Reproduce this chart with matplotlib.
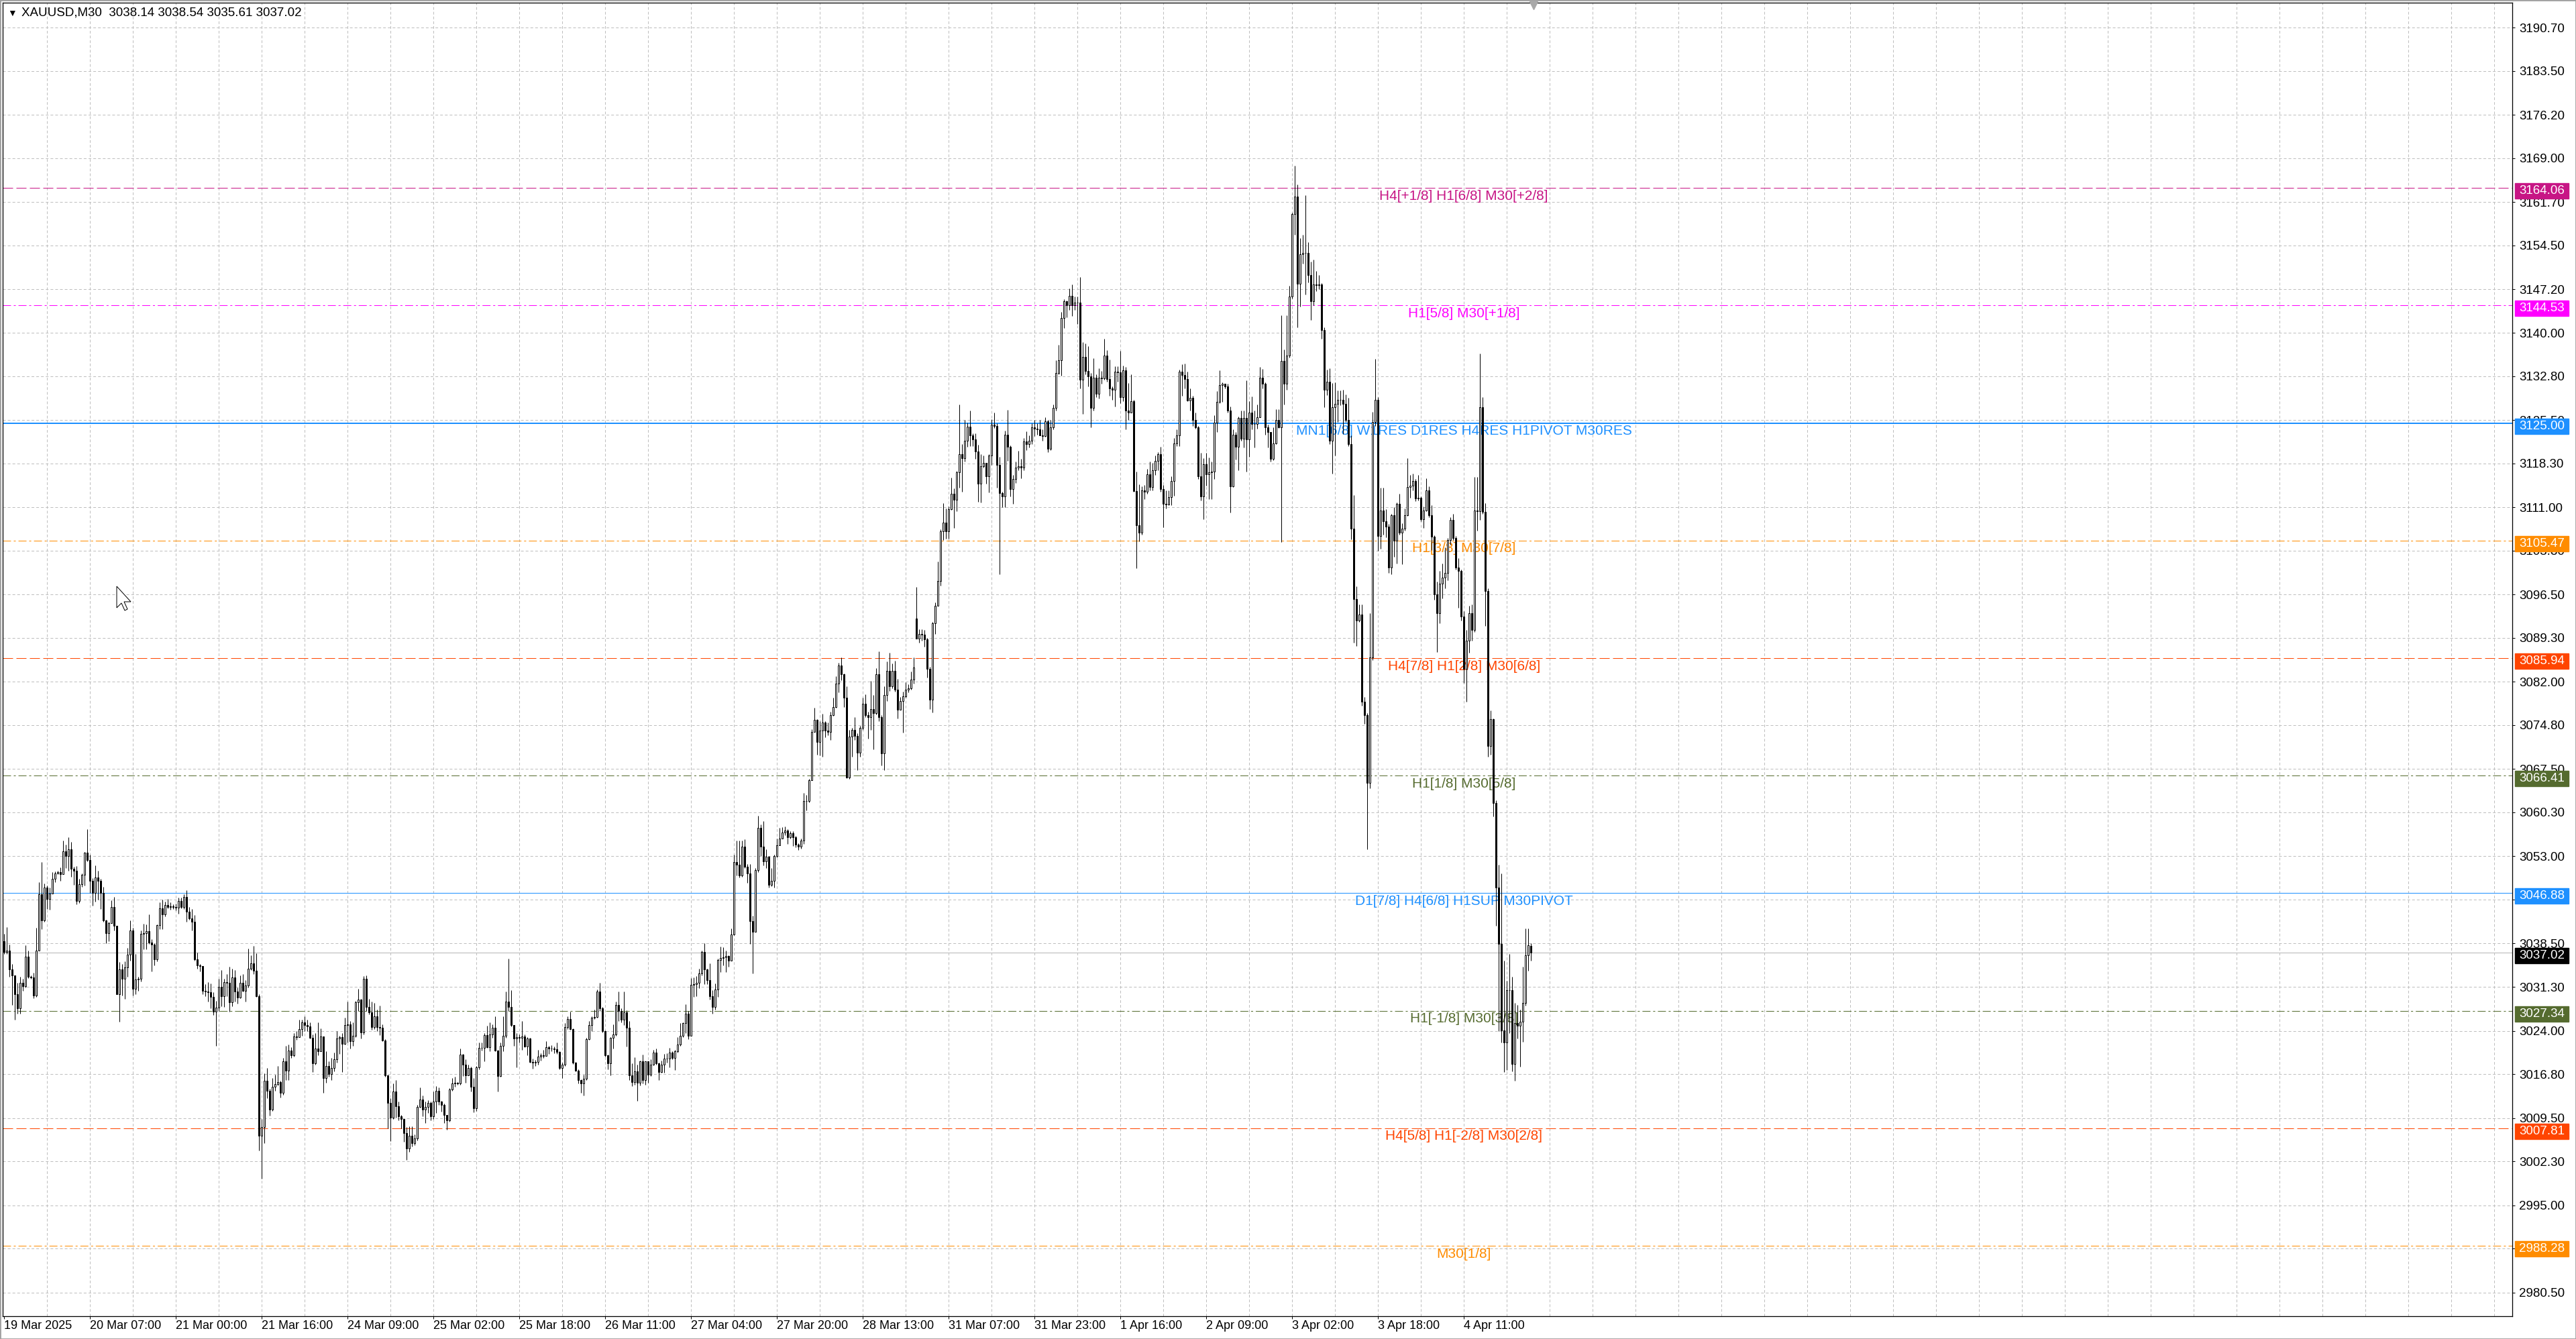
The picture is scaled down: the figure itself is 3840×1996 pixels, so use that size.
import numpy as np
import matplotlib
matplotlib.use("Agg")
import matplotlib.pyplot as plt
import matplotlib.transforms as mtransforms
from matplotlib.patches import Rectangle, Polygon

first_open = 3038.9
gap_opens = {340: 3092.5, 569: 3038.14}   # ouverture du lundi avec gap, derniere bougie

closes = [
    3037.1, 3037.3, 3034.2, 3033.2, 3030.1, 3027.7, 3032.0, 3031.4, 3036.3, 3033.0,
    3032.9, 3029.9, 3037.3, 3046.7, 3042.3, 3047.8, 3045.9, 3046.8, 3049.2, 3050.1,
    3050.4, 3050.0, 3053.8, 3053.1, 3054.2, 3050.9, 3050.6, 3045.6, 3048.4, 3049.9,
    3053.6, 3052.4, 3048.9, 3046.9, 3049.5, 3048.9, 3046.9, 3042.3, 3040.2, 3041.9,
    3044.6, 3041.5, 3030.1, 3034.2, 3032.7, 3034.5, 3036.7, 3040.7, 3031.0, 3032.5,
    3032.7, 3040.1, 3040.2, 3040.6, 3038.7, 3038.3, 3035.9, 3041.6, 3044.4, 3043.4,
    3044.9, 3044.6, 3044.7, 3044.6, 3044.5, 3045.6, 3044.6, 3046.2, 3043.8, 3042.7,
    3042.1, 3035.9, 3034.9, 3034.8, 3030.6, 3030.5, 3030.4, 3029.6, 3027.2, 3027.9,
    3031.3, 3029.8, 3032.1, 3032.0, 3028.7, 3032.9, 3030.5, 3029.5, 3032.0, 3030.6,
    3031.5, 3034.3, 3035.2, 3034.0, 3029.8, 3006.6, 3008.0, 3015.7, 3014.0, 3010.9,
    3014.7, 3015.1, 3015.5, 3013.7, 3018.9, 3017.4, 3020.7, 3019.9, 3023.1, 3023.0,
    3024.3, 3025.4, 3024.9, 3024.7, 3022.8, 3018.6, 3021.0, 3020.6, 3023.1, 3016.1,
    3018.1, 3016.8, 3017.8, 3019.3, 3022.7, 3022.9, 3021.8, 3024.9, 3025.1, 3022.3,
    3023.2, 3028.7, 3029.2, 3023.7, 3032.7, 3028.0, 3027.1, 3024.6, 3026.4, 3024.6,
    3024.5, 3022.4, 3016.6, 3012.0, 3009.6, 3013.9, 3011.5, 3009.8, 3009.4, 3007.0,
    3004.4, 3006.6, 3005.3, 3006.1, 3011.3, 3012.6, 3010.9, 3011.4, 3012.0, 3009.8,
    3012.2, 3014.0, 3012.2, 3011.7, 3010.0, 3009.1, 3014.3, 3015.2, 3015.4, 3015.3,
    3020.1, 3018.4, 3016.6, 3017.8, 3014.7, 3011.1, 3017.9, 3021.2, 3021.2, 3023.3,
    3021.3, 3023.4, 3024.5, 3020.7, 3016.5, 3021.5, 3023.2, 3028.8, 3028.0, 3024.9,
    3022.7, 3023.0, 3022.8, 3023.1, 3021.4, 3022.7, 3018.8, 3018.7, 3018.8, 3019.7,
    3019.9, 3019.8, 3021.3, 3021.1, 3021.1, 3020.9, 3020.5, 3017.8, 3018.4, 3024.6,
    3026.0, 3024.3, 3018.7, 3017.4, 3015.8, 3015.2, 3016.0, 3022.6, 3025.0, 3026.2,
    3026.3, 3030.5, 3027.7, 3024.0, 3019.9, 3018.6, 3022.8, 3023.4, 3028.3, 3027.3,
    3025.9, 3027.1, 3024.5, 3016.6, 3015.5, 3017.3, 3015.4, 3018.9, 3015.8, 3018.9,
    3016.7, 3018.4, 3020.4, 3018.6, 3017.2, 3018.4, 3019.4, 3019.4, 3020.4, 3019.5,
    3020.6, 3021.7, 3023.2, 3025.3, 3026.9, 3023.2, 3031.6, 3031.7, 3032.0, 3033.5,
    3037.1, 3034.2, 3032.4, 3029.7, 3028.0, 3030.9, 3035.8, 3036.1, 3036.2, 3036.4,
    3035.7, 3040.0, 3052.0, 3051.6, 3049.8, 3054.6, 3051.3, 3050.1, 3042.2, 3040.5,
    3050.7, 3057.7, 3054.6, 3052.1, 3052.9, 3048.2, 3048.9, 3053.0, 3054.8, 3055.9,
    3056.9, 3057.3, 3056.2, 3056.8, 3056.2, 3054.9, 3054.6, 3055.6, 3062.2, 3062.2,
    3065.6, 3073.7, 3075.7, 3072.0, 3073.9, 3075.2, 3073.9, 3073.7, 3076.5, 3077.8,
    3081.7, 3084.7, 3083.3, 3079.3, 3066.1, 3072.9, 3074.0, 3073.0, 3070.2, 3074.3,
    3078.4, 3076.5, 3076.1, 3077.5, 3076.8, 3083.3, 3076.1, 3070.1, 3079.8, 3083.8,
    3081.3, 3083.8, 3080.7, 3077.4, 3078.8, 3079.6, 3080.7, 3080.9, 3082.4, 3084.4,
    3089.2, 3089.9, 3089.8, 3089.1, 3084.2, 3079.0, 3091.7, 3094.6, 3098.7, 3107.0,
    3108.4, 3107.0, 3110.7, 3113.3, 3112.2, 3116.8, 3119.8, 3119.2, 3122.1, 3124.4,
    3122.9, 3122.3, 3120.3, 3114.9, 3117.8, 3118.4, 3116.1, 3119.6, 3124.7, 3124.5,
    3118.0, 3113.4, 3112.8, 3123.1, 3121.1, 3114.0, 3115.7, 3117.6, 3117.8, 3117.6,
    3121.9, 3121.5, 3122.0, 3124.3, 3124.1, 3123.9, 3123.0, 3122.8, 3125.3, 3120.7,
    3124.3, 3127.5, 3133.3, 3135.4, 3142.4, 3145.2, 3144.6, 3146.1, 3144.6, 3145.0,
    3145.0, 3132.2, 3136.0, 3133.7, 3132.7, 3127.5, 3132.5, 3129.9, 3132.5, 3132.4,
    3136.2, 3132.3, 3130.7, 3130.5, 3133.5, 3133.4, 3129.3, 3133.8, 3127.1, 3126.7,
    3128.6, 3113.7, 3108.0, 3106.8, 3113.8, 3113.6, 3116.5, 3114.4, 3117.1, 3118.7,
    3119.8, 3114.0, 3111.6, 3111.5, 3112.7, 3115.4, 3121.6, 3122.9, 3133.5, 3133.0,
    3132.3, 3128.7, 3129.2, 3125.5, 3124.3, 3116.1, 3112.8, 3118.2, 3116.5, 3116.8,
    3116.9, 3125.1, 3128.5, 3131.3, 3131.5, 3131.1, 3127.1, 3114.5, 3123.1, 3121.1,
    3125.8, 3122.4, 3125.8, 3122.3, 3126.7, 3124.8, 3124.8, 3125.9, 3132.5, 3131.5,
    3124.3, 3123.5, 3119.0, 3121.6, 3125.5, 3124.3, 3135.3, 3131.5, 3136.2, 3146.0,
    3159.7, 3162.6, 3148.1, 3153.0, 3153.3, 3153.3, 3149.6, 3145.2, 3148.0, 3147.9,
    3148.0, 3140.5, 3130.5, 3131.9, 3122.1, 3127.6, 3128.2, 3128.9, 3128.9, 3128.2,
    3125.5, 3121.5, 3107.5, 3095.7, 3092.2, 3093.2, 3078.7, 3076.5, 3065.2, 3086.1,
    3125.2, 3128.9, 3106.2, 3110.5, 3108.7, 3107.8, 3101.0, 3109.7, 3105.4, 3111.6,
    3106.8, 3107.4, 3109.7, 3114.4, 3114.6, 3115.4, 3112.5, 3112.6, 3109.0, 3110.5,
    3113.8, 3109.7, 3106.1, 3096.5, 3093.4, 3098.3, 3099.3, 3100.1, 3105.6, 3108.9,
    3105.9, 3101.0, 3100.4, 3092.8, 3084.2, 3088.8, 3093.4, 3090.6, 3110.5, 3110.3,
    3127.6, 3110.2, 3097.1, 3071.3, 3075.8, 3061.9, 3047.8, 3038.4, 3024.1, 3022.0,
    3030.7, 3030.8, 3018.5, 3025.3, 3024.8, 3025.5, 3028.6, 3036.6, 3038.2, 3037.02,
]

highs = [
    3040.1, 3041.2, 3038.3, 3035.1, 3033.2, 3032.0, 3033.0, 3032.6, 3038.2, 3037.3,
    3033.2, 3033.6, 3041.1, 3048.7, 3052.0, 3048.5, 3048.1, 3047.8, 3050.4, 3050.5,
    3050.6, 3051.2, 3055.6, 3054.9, 3056.2, 3055.4, 3051.3, 3051.4, 3049.2, 3050.2,
    3053.7, 3057.5, 3053.3, 3049.4, 3051.5, 3050.6, 3049.2, 3047.9, 3042.5, 3042.1,
    3045.7, 3046.2, 3041.5, 3035.4, 3035.1, 3035.5, 3037.8, 3042.3, 3041.1, 3036.8,
    3033.0, 3040.7, 3041.8, 3041.7, 3043.3, 3039.2, 3038.6, 3041.7, 3045.4, 3045.8,
    3045.5, 3045.9, 3045.3, 3045.0, 3045.1, 3046.1, 3046.1, 3046.7, 3047.4, 3044.6,
    3044.2, 3043.2, 3037.0, 3035.1, 3034.7, 3031.8, 3032.1, 3031.9, 3030.4, 3029.0,
    3032.7, 3034.1, 3032.6, 3033.4, 3034.7, 3034.3, 3034.1, 3031.2, 3033.2, 3033.4,
    3032.4, 3037.7, 3036.5, 3038.1, 3036.9, 3030.1, 3009.3, 3016.9, 3017.8, 3014.4,
    3016.1, 3016.7, 3018.2, 3015.7, 3019.5, 3021.5, 3021.7, 3021.3, 3023.6, 3024.0,
    3025.8, 3025.8, 3026.4, 3025.8, 3025.4, 3023.4, 3023.6, 3025.4, 3024.4, 3023.1,
    3020.6, 3018.9, 3019.5, 3020.4, 3023.9, 3023.2, 3023.6, 3026.2, 3028.9, 3025.6,
    3025.4, 3029.0, 3031.0, 3029.3, 3033.1, 3033.2, 3029.3, 3028.8, 3028.6, 3027.5,
    3028.2, 3025.1, 3022.6, 3016.7, 3012.8, 3015.2, 3015.8, 3012.2, 3010.0, 3009.4,
    3008.0, 3008.1, 3008.1, 3006.8, 3011.7, 3014.6, 3013.2, 3012.2, 3012.5, 3012.2,
    3013.9, 3014.8, 3014.6, 3012.4, 3011.9, 3010.0, 3014.5, 3016.2, 3016.4, 3015.5,
    3021.0, 3020.2, 3019.3, 3018.4, 3018.0, 3016.1, 3018.1, 3022.0, 3022.0, 3023.6,
    3024.8, 3025.4, 3025.1, 3026.4, 3020.8, 3022.1, 3026.4, 3030.5, 3036.0, 3030.8,
    3025.0, 3023.6, 3023.4, 3025.6, 3023.4, 3022.9, 3022.8, 3019.4, 3019.2, 3020.8,
    3020.3, 3020.8, 3022.3, 3021.5, 3021.6, 3021.4, 3022.1, 3020.6, 3018.7, 3025.3,
    3026.4, 3027.2, 3024.4, 3018.8, 3017.6, 3015.9, 3016.7, 3022.8, 3025.6, 3026.4,
    3027.5, 3030.9, 3032.0, 3028.0, 3024.1, 3020.0, 3023.0, 3025.1, 3028.8, 3030.5,
    3027.7, 3030.5, 3027.4, 3025.6, 3018.6, 3019.6, 3018.4, 3019.0, 3020.0, 3018.9,
    3018.9, 3019.3, 3020.8, 3021.0, 3018.7, 3019.1, 3020.2, 3020.3, 3021.2, 3020.6,
    3020.8, 3022.9, 3025.3, 3025.4, 3028.4, 3027.3, 3032.8, 3032.9, 3033.1, 3034.3,
    3037.3, 3038.6, 3034.3, 3035.2, 3030.8, 3031.9, 3036.0, 3038.0, 3037.9, 3037.3,
    3036.6, 3041.0, 3053.3, 3055.6, 3055.6, 3055.6, 3055.8, 3051.7, 3051.7, 3043.1,
    3051.0, 3059.7, 3058.3, 3058.8, 3054.2, 3053.1, 3051.0, 3053.3, 3055.9, 3057.7,
    3057.8, 3058.0, 3057.5, 3057.2, 3057.2, 3056.4, 3055.2, 3055.9, 3063.5, 3063.2,
    3065.9, 3074.1, 3077.7, 3075.8, 3075.5, 3076.7, 3075.5, 3075.2, 3077.0, 3079.3,
    3082.9, 3085.1, 3086.0, 3083.4, 3081.3, 3074.0, 3074.3, 3076.1, 3073.4, 3074.7,
    3079.3, 3079.9, 3077.0, 3082.1, 3079.8, 3084.3, 3087.0, 3076.5, 3081.3, 3085.4,
    3086.8, 3085.0, 3085.5, 3082.5, 3079.5, 3080.4, 3081.9, 3081.6, 3083.7, 3086.0,
    3097.8, 3090.7, 3090.7, 3090.6, 3089.3, 3084.5, 3091.9, 3095.2, 3102.0, 3107.3,
    3111.7, 3110.8, 3111.1, 3115.9, 3114.1, 3117.0, 3128.1, 3121.5, 3125.5, 3125.1,
    3127.1, 3123.3, 3123.3, 3121.4, 3119.8, 3119.6, 3118.4, 3119.8, 3125.6, 3126.7,
    3124.9, 3119.4, 3113.6, 3123.7, 3127.2, 3121.3, 3116.4, 3118.6, 3120.4, 3119.0,
    3122.5, 3123.6, 3122.9, 3124.9, 3125.5, 3124.9, 3125.5, 3123.9, 3125.9, 3125.5,
    3125.5, 3128.1, 3135.4, 3138.0, 3143.5, 3145.6, 3145.4, 3147.4, 3148.0, 3146.0,
    3146.0, 3149.2, 3138.4, 3138.2, 3137.8, 3133.3, 3135.8, 3133.1, 3134.1, 3133.6,
    3139.0, 3137.1, 3135.5, 3131.1, 3134.4, 3134.4, 3137.0, 3134.5, 3134.3, 3131.6,
    3133.1, 3128.9, 3116.9, 3114.8, 3114.5, 3114.7, 3117.4, 3118.6, 3118.4, 3119.6,
    3120.2, 3121.0, 3114.7, 3113.8, 3113.8, 3116.2, 3122.5, 3123.9, 3133.9, 3134.8,
    3134.9, 3133.5, 3130.7, 3129.5, 3126.7, 3124.5, 3120.0, 3119.2, 3120.0, 3119.3,
    3118.6, 3126.3, 3130.3, 3133.8, 3131.7, 3131.5, 3131.5, 3127.7, 3124.0, 3123.5,
    3126.1, 3127.1, 3127.1, 3132.1, 3128.6, 3129.4, 3127.1, 3128.1, 3134.3, 3134.0,
    3131.7, 3124.7, 3123.5, 3124.3, 3127.3, 3127.3, 3142.9, 3137.2, 3142.9, 3147.8,
    3160.0, 3167.8, 3164.6, 3155.7, 3156.3, 3162.9, 3155.0, 3151.8, 3152.2, 3150.3,
    3149.6, 3148.3, 3140.9, 3133.9, 3134.1, 3131.6, 3131.8, 3130.4, 3130.4, 3130.5,
    3129.7, 3129.2, 3123.0, 3113.0, 3097.9, 3094.9, 3094.9, 3079.5, 3076.8, 3093.4,
    3126.8, 3135.6, 3129.3, 3114.2, 3114.2, 3110.7, 3108.2, 3109.9, 3111.0, 3111.8,
    3113.3, 3108.3, 3110.8, 3119.1, 3116.4, 3116.6, 3115.7, 3116.4, 3112.8, 3111.1,
    3115.8, 3114.5, 3111.4, 3106.3, 3098.6, 3100.4, 3101.7, 3104.3, 3105.9, 3109.3,
    3109.9, 3106.2, 3102.5, 3100.7, 3093.7, 3090.6, 3094.6, 3094.9, 3116.0, 3116.0,
    3136.5, 3129.3, 3111.7, 3097.5, 3077.2, 3075.9, 3062.3, 3051.6, 3050.2, 3035.6,
    3032.3, 3036.8, 3033.0, 3028.6, 3028.3, 3027.5, 3034.7, 3041.0, 3041.0, 3038.54,
]

lows = [
    3036.8, 3036.8, 3033.0, 3028.3, 3025.9, 3026.8, 3026.8, 3030.6, 3031.2, 3032.8,
    3032.6, 3029.4, 3029.6, 3037.3, 3040.9, 3042.1, 3044.2, 3044.1, 3047.1, 3048.7,
    3050.0, 3048.9, 3050.0, 3051.0, 3050.6, 3049.6, 3048.3, 3045.0, 3045.2, 3047.9,
    3048.1, 3052.1, 3046.9, 3044.8, 3045.5, 3045.8, 3044.2, 3042.1, 3038.6, 3038.9,
    3041.9, 3040.7, 3030.1, 3025.5, 3029.9, 3029.3, 3033.0, 3035.7, 3029.9, 3030.1,
    3030.6, 3032.2, 3037.6, 3037.5, 3038.4, 3033.9, 3034.9, 3035.5, 3040.9, 3040.9,
    3043.0, 3044.3, 3044.1, 3044.2, 3044.0, 3043.5, 3044.3, 3044.2, 3042.1, 3042.5,
    3040.7, 3035.7, 3034.3, 3033.9, 3030.1, 3029.8, 3028.9, 3027.7, 3026.6, 3021.5,
    3027.3, 3028.1, 3028.0, 3029.7, 3027.2, 3028.1, 3028.9, 3028.5, 3029.4, 3030.5,
    3028.9, 3031.2, 3034.1, 3033.4, 3029.6, 3004.1, 2999.4, 3005.3, 3012.8, 3009.9,
    3010.7, 3014.0, 3014.9, 3012.9, 3013.4, 3015.8, 3015.8, 3019.5, 3019.7, 3022.5,
    3023.8, 3023.2, 3024.0, 3024.0, 3022.7, 3017.1, 3018.4, 3019.9, 3020.6, 3013.7,
    3015.4, 3016.4, 3015.8, 3017.3, 3018.7, 3020.2, 3017.2, 3021.7, 3022.1, 3021.0,
    3021.5, 3023.0, 3027.3, 3022.7, 3023.4, 3027.3, 3026.7, 3024.2, 3024.3, 3023.9,
    3023.3, 3022.3, 3016.4, 3007.8, 3005.7, 3009.4, 3009.6, 3009.1, 3007.8, 3005.5,
    3002.5, 3003.9, 3004.8, 3005.0, 3005.8, 3011.2, 3009.8, 3008.7, 3010.4, 3009.1,
    3009.4, 3010.3, 3011.7, 3010.6, 3008.7, 3007.6, 3008.9, 3014.0, 3014.7, 3015.0,
    3015.0, 3016.5, 3015.4, 3016.6, 3013.9, 3010.5, 3010.7, 3017.6, 3020.7, 3018.9,
    3021.2, 3020.6, 3022.8, 3020.6, 3013.9, 3016.4, 3020.6, 3022.8, 3027.3, 3024.7,
    3021.5, 3017.9, 3022.0, 3020.8, 3021.3, 3019.9, 3018.7, 3017.7, 3018.2, 3018.4,
    3019.0, 3019.5, 3020.2, 3020.2, 3020.6, 3020.3, 3020.2, 3017.6, 3016.1, 3018.2,
    3024.3, 3024.2, 3018.5, 3017.3, 3015.2, 3013.7, 3013.2, 3015.8, 3022.5, 3023.9,
    3026.0, 3026.2, 3027.3, 3023.7, 3019.7, 3017.6, 3016.6, 3021.0, 3023.2, 3025.6,
    3025.4, 3024.9, 3021.4, 3015.8, 3014.8, 3015.0, 3012.4, 3014.9, 3015.2, 3015.0,
    3015.4, 3016.5, 3018.3, 3018.4, 3015.8, 3017.0, 3017.0, 3018.7, 3017.9, 3019.3,
    3017.5, 3020.4, 3021.5, 3022.9, 3023.6, 3022.6, 3027.3, 3029.6, 3029.7, 3031.1,
    3033.2, 3031.7, 3031.7, 3029.2, 3026.8, 3027.5, 3029.6, 3033.8, 3034.9, 3033.8,
    3034.7, 3035.6, 3039.9, 3049.8, 3049.5, 3049.6, 3051.0, 3048.6, 3038.4, 3033.5,
    3040.5, 3050.4, 3053.0, 3051.5, 3051.0, 3047.8, 3048.0, 3047.8, 3052.8, 3054.8,
    3055.9, 3056.5, 3055.0, 3055.9, 3054.7, 3054.5, 3054.1, 3054.3, 3055.0, 3060.6,
    3062.0, 3065.6, 3073.9, 3069.9, 3069.8, 3069.6, 3072.8, 3073.1, 3072.3, 3076.3,
    3077.7, 3080.2, 3082.3, 3077.8, 3066.0, 3065.9, 3069.5, 3072.3, 3067.3, 3069.6,
    3074.0, 3076.1, 3072.6, 3074.0, 3070.8, 3076.6, 3075.5, 3068.1, 3067.3, 3078.8,
    3080.5, 3080.9, 3080.4, 3075.9, 3077.4, 3073.6, 3079.4, 3080.3, 3080.7, 3081.7,
    3089.2, 3088.5, 3088.8, 3087.8, 3082.7, 3077.5, 3076.9, 3090.0, 3094.8, 3098.0,
    3105.6, 3105.8, 3105.8, 3110.6, 3107.6, 3110.3, 3114.2, 3113.6, 3118.6, 3121.0,
    3121.2, 3121.2, 3119.0, 3111.9, 3111.8, 3117.6, 3114.9, 3113.5, 3118.0, 3124.2,
    3114.2, 3099.9, 3111.0, 3111.0, 3118.7, 3112.8, 3111.6, 3115.0, 3117.2, 3115.8,
    3117.2, 3120.5, 3120.9, 3121.5, 3122.8, 3123.1, 3122.9, 3122.1, 3122.7, 3120.2,
    3120.5, 3124.0, 3127.1, 3133.1, 3132.9, 3140.8, 3142.6, 3143.8, 3142.8, 3143.8,
    3141.5, 3130.7, 3126.5, 3133.1, 3131.1, 3124.3, 3127.1, 3129.3, 3129.1, 3131.5,
    3132.2, 3131.9, 3129.5, 3128.9, 3127.7, 3131.9, 3128.3, 3128.6, 3123.9, 3125.5,
    3126.7, 3113.6, 3100.9, 3105.3, 3106.4, 3112.3, 3113.2, 3113.8, 3113.8, 3116.4,
    3117.2, 3113.6, 3107.7, 3110.8, 3111.4, 3111.4, 3112.9, 3121.2, 3121.2, 3129.5,
    3130.7, 3128.6, 3127.1, 3124.5, 3124.1, 3115.7, 3112.1, 3109.0, 3114.6, 3112.4,
    3112.4, 3115.7, 3123.5, 3128.3, 3128.5, 3130.7, 3126.7, 3110.1, 3114.4, 3118.9,
    3117.2, 3122.1, 3120.9, 3116.9, 3119.4, 3123.9, 3120.9, 3124.1, 3125.9, 3130.7,
    3123.1, 3120.9, 3118.6, 3118.8, 3121.5, 3124.2, 3105.2, 3128.1, 3130.5, 3135.9,
    3145.7, 3156.3, 3140.9, 3144.3, 3151.5, 3146.3, 3148.4, 3142.1, 3144.6, 3146.9,
    3147.2, 3139.0, 3127.6, 3129.6, 3121.5, 3116.6, 3119.6, 3125.2, 3128.0, 3123.2,
    3125.2, 3121.2, 3105.7, 3088.5, 3087.9, 3092.0, 3078.0, 3075.0, 3054.2, 3064.3,
    3085.6, 3124.5, 3103.8, 3104.1, 3106.4, 3106.0, 3100.1, 3099.9, 3102.8, 3101.6,
    3106.5, 3101.5, 3107.1, 3109.6, 3112.6, 3113.8, 3112.0, 3112.1, 3108.7, 3107.6,
    3110.3, 3109.3, 3103.9, 3095.6, 3086.9, 3091.7, 3095.8, 3097.5, 3098.9, 3104.8,
    3105.6, 3100.7, 3094.3, 3092.2, 3081.8, 3078.7, 3086.8, 3088.8, 3090.3, 3107.1,
    3108.9, 3109.9, 3091.3, 3069.6, 3069.9, 3059.6, 3041.5, 3023.9, 3022.0, 3017.1,
    3017.5, 3023.6, 3017.3, 3015.7, 3022.7, 3018.0, 3022.2, 3028.2, 3034.0, 3035.61,
]

# niveaux Murrey (prix, texte, couleur, style)
levels = [3164.06, 3144.53, 3125.00, 3105.47, 3085.94, 3066.41, 3046.88, 3027.34, 3007.81, 2988.28]
level_texts = [
    "H4[+1/8] H1[6/8] M30[+2/8]",
    "H1[5/8] M30[+1/8]",
    "MN1[6/8] W1RES D1RES H4RES H1PIVOT M30RES",
    "H1[3/8] M30[7/8]",
    "H4[7/8] H1[2/8] M30[6/8]",
    "H1[1/8] M30[5/8]",
    "D1[7/8] H4[6/8] H1SUP M30PIVOT",
    "H1[-1/8] M30[3/8]",
    "H4[5/8] H1[-2/8] M30[2/8]",
    "M30[1/8]",
]
level_colors = ["#C71585", "#FF00FF", "#1E90FF", "#FF8C00", "#FF4500",
                "#556B2F", "#1E90FF", "#556B2F", "#FF4500", "#FF8C00"]
level_styles = ["dash", "dashdot", "solid", "dashdot", "dash",
                "dashdot", "solid", "dashdot", "dash", "dashdot"]
bid = 3037.02

date_labels = ["19 Mar 2025", "20 Mar 07:00", "21 Mar 00:00", "21 Mar 16:00", "24 Mar 09:00",
               "25 Mar 02:00", "25 Mar 18:00", "26 Mar 11:00", "27 Mar 04:00", "27 Mar 20:00",
               "28 Mar 13:00", "31 Mar 07:00", "31 Mar 23:00", "1 Apr 16:00", "2 Apr 09:00",
               "3 Apr 02:00", "3 Apr 18:00", "4 Apr 11:00"]
price_labels = ["3190.70", "3183.50", "3176.20", "3169.00", "3161.70", "3154.50", "3147.20",
                "3140.00", "3132.80", "3125.50", "3118.30", "3111.00", "3103.80", "3096.50",
                "3089.30", "3082.00", "3074.80", "3067.50", "3060.30", "3053.00", "3045.80",
                "3038.50", "3031.30", "3024.00", "3016.80", "3009.50", "3002.30", "2995.00",
                "2987.80", "2980.50"]
title = "XAUUSD,M30  3038.14 3038.54 3035.61 3037.02"

# ---------------------------------------------------------------
plt.rcParams['font.family'] = ['Liberation Sans', 'DejaVu Sans']
plt.rcParams['lines.scale_dashes'] = False

W, H = 3840, 1996
PX = 72 / 100          # un pixel en points
fig = plt.figure(figsize=(W / 100, H / 100), dpi=100)
fig.patch.set_facecolor("white")
ax_l, ax_r, ax_t, ax_b = 4, 3745, 4, 1962
ax = fig.add_axes([ax_l / W, 1 - ax_b / H, (ax_r - ax_l) / W, (ax_b - ax_t) / H])
ax.set_facecolor("white")
ax.set_xlim(-0.52, 934.7)
ax.set_ylim(2976.57, 3194.85)

# grille pointillee facon MT4
yticks = [float(v) for v in price_labels]
grid_kw = dict(color="#BEBEBE", lw=PX, ls=(0, (2.9, 2.2)), zorder=0.5)
for yv in yticks:
    ax.axhline(yv, **grid_kw)
for xv in range(16, 935, 16):
    ax.axvline(xv, **grid_kw)

# lignes des niveaux
dash_map = {"dash": (0, (10.8, 3.6)), "dashdot": (0, (8.6, 2.9, 2.2, 2.9)), "solid": "-"}
for i, (lv, txt, col, st) in enumerate(zip(levels, level_texts, level_colors, level_styles)):
    lw = 2 * PX if i == 2 else PX
    ax.axhline(lv, color=col, lw=lw, ls=dash_map[st], zorder=1)
    ax.text(544, lv - 0.3, txt, color=col, fontsize=15, ha="center", va="top", zorder=2)
ax.axhline(bid, color="#C0C0C0", lw=PX * 1.2, zorder=1)

# bougies
c = np.array(closes)
o = np.array([first_open] + closes[:-1])
for k, v in gap_opens.items():
    o[k] = v
hi = np.maximum(np.array(highs), np.maximum(o, c))
lo = np.minimum(np.array(lows), np.minimum(o, c))
xs = np.arange(len(c))
up = c >= o
ax.vlines(xs, lo, hi, color="black", lw=PX, zorder=4)
bot = np.minimum(o, c)
hgt = np.abs(c - o)
ax.bar(xs[up], hgt[up], bottom=bot[up], width=0.55, facecolor="white",
       edgecolor="black", linewidth=PX, zorder=5)
ax.bar(xs[~up], hgt[~up], bottom=bot[~up], width=0.55, facecolor="black",
       edgecolor="black", linewidth=PX, zorder=5)

# axes
for sp in ax.spines.values():
    sp.set_color("black")
    sp.set_linewidth(PX * 1.3)
ax.yaxis.tick_right()
ax.set_yticks(yticks)
ax.set_yticklabels(price_labels)
ax.tick_params(axis="y", right=True, left=False, length=4 * PX, width=PX,
               pad=6 * PX, labelsize=13.5, colors="black")
ax.set_xticks(np.arange(len(date_labels)) * 32)
ax.set_xticklabels(date_labels)
ax.tick_params(axis="x", length=4 * PX, width=PX, pad=2 * PX, labelsize=13)
for lbl in ax.get_xticklabels():
    lbl.set_ha("left")

# etiquettes de prix a droite (un peu sous la ligne comme dans MT4)
tr = mtransforms.blended_transform_factory(ax.transAxes, ax.transData)
axw = ax_r - ax_l
tags = list(zip(levels, level_colors)) + [(bid, "#000000")]
for pv, col in tags:
    yc = pv - 0.5
    ax.add_patch(Rectangle((1 + 4 / axw, yc - 1.28), 80 / axw, 2.56, transform=tr,
                           facecolor=col, edgecolor=col, clip_on=False, zorder=20))
    ax.text(1 + 44 / axw, yc, "%.2f" % pv, transform=tr, color="white", fontsize=13.5,
            ha="center", va="center", clip_on=False, zorder=21)

# titre en haut a gauche
ax.annotate("\u25bc", xy=(0, 1), xycoords="axes fraction", xytext=(7 * PX, -15.5 * PX),
            textcoords="offset points", fontsize=10, ha="left", va="center")
ax.annotate(title, xy=(0, 1), xycoords="axes fraction", xytext=(28 * PX, -15.5 * PX),
            textcoords="offset points", fontsize=13.5, ha="left", va="center")

# petit triangle du decalage du graphique
ax.plot([570], [1 - 4 / (ax_b - ax_t)], marker="v", ms=8, color="#A8A8A8",
        transform=mtransforms.blended_transform_factory(ax.transData, ax.transAxes),
        clip_on=False, zorder=22)

# curseur de souris
tip = (174, 874)
shape = [(0, 0), (0, 32), (7, 25), (12, 36), (16, 34), (11, 23), (21, 23)]
pts = [((tip[0] + dx) / W, 1 - (tip[1] + dy) / H) for dx, dy in shape]
fig.add_artist(Polygon(pts, closed=True, transform=fig.transFigure, facecolor="white",
                       edgecolor="black", linewidth=PX, zorder=30))

# cadre de la fenetre
fig.add_artist(Rectangle((0, 0), 1, 1, transform=fig.transFigure, fill=False,
                         edgecolor="#A0A0A0", linewidth=2, zorder=31))

fig.savefig("out.png", dpi=100, facecolor="white")
